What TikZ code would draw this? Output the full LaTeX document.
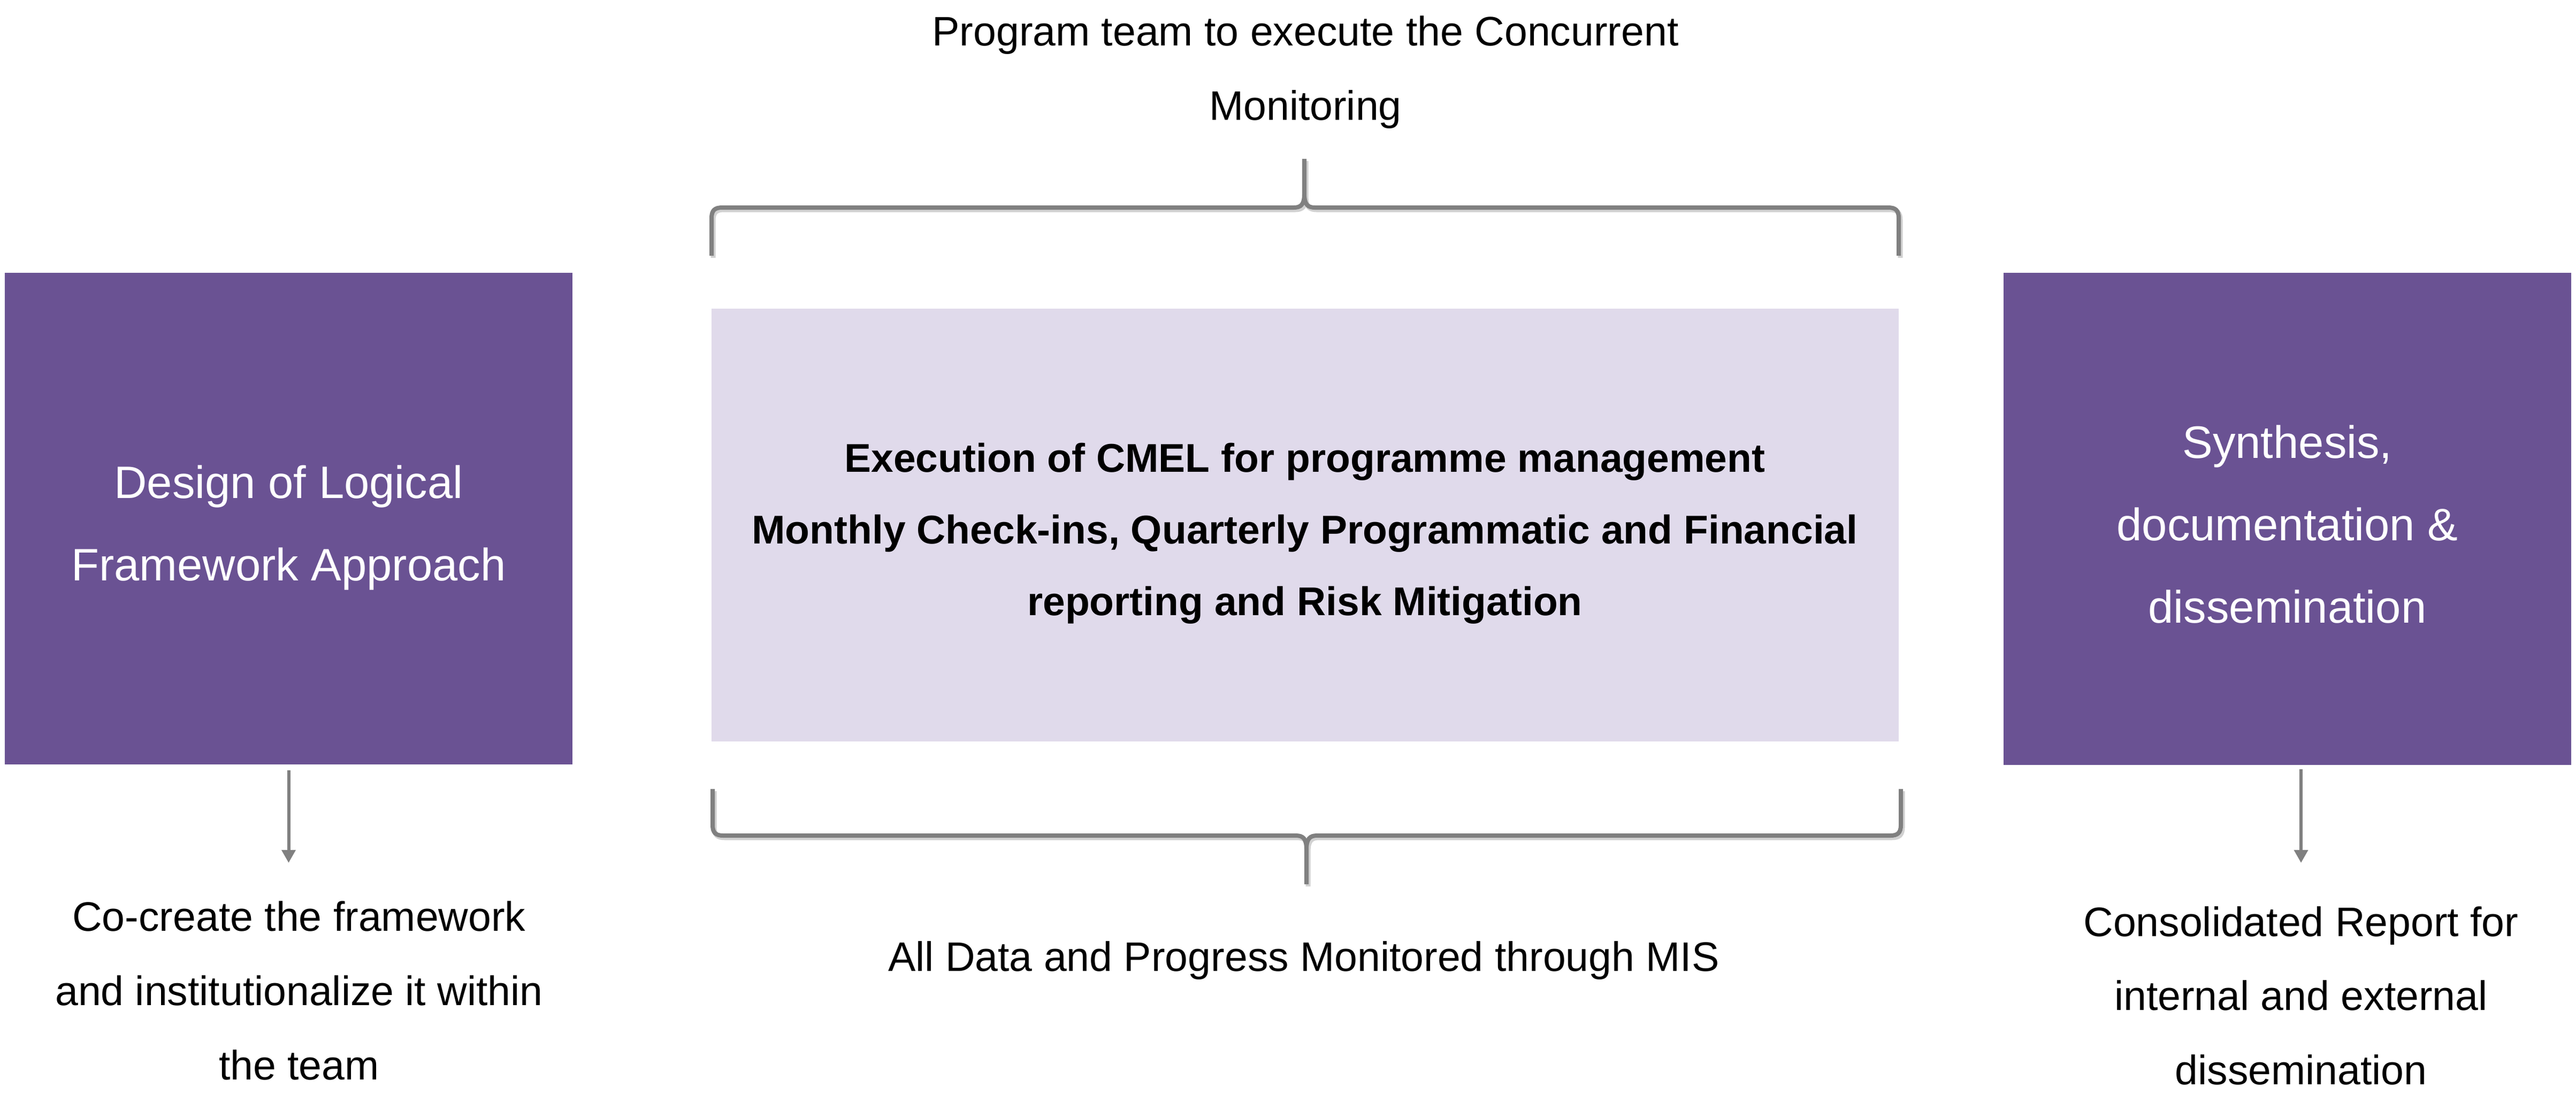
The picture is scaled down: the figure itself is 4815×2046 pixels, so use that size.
\documentclass[tikz,border=0pt]{standalone}
\usepackage{fontspec}
\setmainfont{Liberation Sans}
\usetikzlibrary{arrows.meta}
\definecolor{boxpurple}{RGB}{106,82,147}
\definecolor{boxlav}{RGB}{224,218,235}
\definecolor{linegray}{RGB}{128,128,128}
\begin{document}
\begin{tikzpicture}[x=0.1pt,y=-0.1pt,
  darkbox/.style={fill=boxpurple, draw=none, inner sep=0pt, outer sep=0pt},
  lightbox/.style={fill=boxlav, draw=none, inner sep=0pt, outer sep=0pt},
  boxtext/.style={text=white, align=center, inner sep=0pt, font=\fontsize{8.5}{15.4}\selectfont},
  midtext/.style={text=black, align=center, inner sep=0pt, font=\fontsize{7.5}{13.4}\selectfont\bfseries},
  plaintext/.style={text=black, align=center, inner sep=0pt, font=\fontsize{7.7}{13.9}\selectfont},
  arr/.style={draw=linegray, line width=0.6pt, -{Triangle[width=2.5pt,length=2.4pt]}},
  bracel/.style={draw=linegray, line width=0.8pt},
  brshadow/.style={draw=black, opacity=0.18, line width=0.9pt}
]
\useasboundingbox (0,0) rectangle (4815,2046);

% boxes
\node[darkbox, minimum width=106.1pt, minimum height=91.9pt] (lbox) at (539.5,969.5) {};
\node[lightbox, minimum width=221.9pt, minimum height=80.9pt] (cbox) at (2439.5,981.5) {};
\node[darkbox, minimum width=106.1pt, minimum height=92pt] (rbox) at (4275.5,970) {};

% box texts
\node[boxtext] (ltext) at (539.5,977.2) {\strut Design of Logical\\\strut Framework Approach};
\node[boxtext] (rtext) at (4275.5,979.2) {\strut Synthesis,\\\strut documentation \&\\\strut dissemination};
\node[midtext] (ctext) at (2439,989.2) {\strut Execution of CMEL for programme management\\\strut Monthly Check-ins, Quarterly Programmatic and Financial\\\strut reporting and Risk Mitigation};

% outer texts
\node[plaintext] (toptext) at (2440,126.7) {\strut Program team to execute the Concurrent\\\strut Monitoring};
\node[plaintext] (mistext) at (2437,1787.2) {\strut All Data and Progress Monitored through MIS};
\node[plaintext] (bltext) at (559,1851.2) {\strut Co-create the framework\\\strut and institutionalize it within\\\strut the team};
\node[plaintext, font=\fontsize{7.7}{13.85}\selectfont] (brtext) at (4301,1860.8) {\strut Consolidated Report for\\\strut internal and external\\\strut dissemination};

% braces
\foreach \dx/\dy/\st in {3/4/brshadow, 0/0/bracel}{
  \draw[\st, shift={(\dx,\dy)}]
    (1330,478) -- (1330,408) .. controls (1330,393) and (1336,388) .. (1350,388)
    -- (2418,388) .. controls (2432,388) and (2438,382) .. (2438,362) -- (2438,297)
    (2438,362) .. controls (2438,382) and (2444,388) .. (2458,388)
    -- (3529,388) .. controls (3543,388) and (3549,393) .. (3549,408) -- (3549,478);
  \draw[\st, shift={(\dx,\dy)}]
    (1332,1475) -- (1332,1542) .. controls (1332,1557) and (1338,1562) .. (1352,1562)
    -- (2422,1562) .. controls (2436,1562) and (2442,1568) .. (2442,1588) -- (2442,1653)
    (2442,1588) .. controls (2442,1568) and (2448,1562) .. (2462,1562)
    -- (3533,1562) .. controls (3547,1562) and (3553,1557) .. (3553,1542) -- (3553,1475);
}

% arrows
\draw[arr, shorten <=1.1pt, shorten >=2.77pt] (lbox.south) -- (lbox.south |- bltext.north);
\draw[arr, shorten <=0.8pt, shorten >=3.8pt] (rbox.south -| brtext.north) -- (brtext.north);
\end{tikzpicture}
\end{document}
